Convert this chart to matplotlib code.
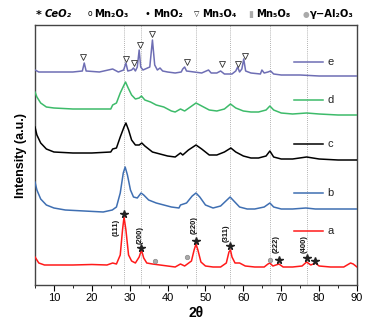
import matplotlib
matplotlib.use("Agg")
import matplotlib.pyplot as plt
from matplotlib.ticker import MultipleLocator

# ---------------- data ----------------
a_x = [5.0, 6.0, 7.5, 10, 15, 20, 24, 25.5, 26.5, 27.5, 28.1, 28.5, 29.0, 29.7, 30.5, 31.5, 32.5, 33.1, 33.7,
       34.5, 36, 38, 40, 42, 43.4, 44.5, 46.3, 47.0, 47.5, 48.0, 48.8, 50, 52, 54, 55.5, 56.2, 56.6, 57.0,
       57.8, 59.0, 60.5, 63, 65.5, 66.5, 67.0, 67.8, 69.4, 70.5, 73, 75.5, 76.7, 77.8, 79.0, 80, 83, 86.5,
       88.3, 89, 90]
a_y = [28, 22, 20, 20, 20, 20.5, 20, 22, 21, 30, 55, 68, 55, 30, 24, 22, 28, 35, 27,
       22, 21, 20, 19, 18, 21, 19, 24, 35, 41, 35, 23, 19, 18, 18, 22, 33, 35, 28,
       22, 22, 19, 18, 18, 21, 22, 19, 21, 18, 18, 19, 23, 20, 22, 19, 18, 18,
       22, 21, 18]

b_x = [5, 5.5, 6.5, 8, 10, 13, 18, 23, 25.4, 26.5, 27.5, 28.3, 28.8, 29.4, 30.2, 31, 32.0, 33, 33.7, 35,
       37, 39, 41, 43, 43.4, 45, 46.5, 47.5, 48.5, 50, 52, 54, 56.5, 57.5, 59, 61, 63, 65.5, 67, 68,
       70, 73, 76.5, 79, 84, 90]
b_y = [103, 95, 86, 80, 77, 75, 74, 73, 75, 78, 92, 112, 118, 110, 95, 88, 87, 92, 90, 85,
       82, 80, 78, 77, 80, 82, 89, 92, 88, 80, 77, 79, 88, 84, 78, 76, 76, 78, 82, 78,
       76, 76, 77, 76, 76, 76]

c_x = [5, 5.5, 6.5, 8, 10, 15, 20, 25, 25.5, 26.5, 27.5, 28.5, 29, 29.7, 30.5, 31.5, 32.5, 33.2, 34, 36,
       38, 40, 42, 43.4, 44, 45.5, 47.5, 49, 51, 53, 55, 56.7, 58, 60, 62, 64, 66, 67.0, 68, 70,
       73, 76.7, 80, 85, 90]
c_y = [158, 150, 142, 136, 133, 132, 132, 133, 136, 137, 148, 158, 162, 155, 145, 140, 140, 142, 139, 133,
       131, 129, 128, 132, 130, 135, 140, 136, 130, 130, 133, 137, 133, 129, 127, 127, 129, 134, 128, 126,
       126, 128, 126, 125, 125]

d_x = [5, 5.5, 6.5, 8, 10, 15, 20, 25, 25.5, 26.5, 27.5, 28.5, 28.9, 29.6, 30.5, 31.5, 32.5, 33.1, 34, 35.5,
       37, 39, 41, 42, 43.4, 44.5, 46, 47.5, 49, 51, 53, 55, 56.6, 58, 60, 62, 64, 66, 67.0, 68,
       70, 73, 76.7, 80, 85, 90]
d_y = [193, 188, 182, 178, 177, 176, 176, 176, 180, 182, 192, 200, 203, 197, 190, 186, 187, 189, 185, 183,
       180, 178, 174, 173, 176, 174, 178, 182, 179, 175, 174, 176, 181, 177, 174, 173, 173, 175, 179, 175,
       172, 171, 172, 171, 170, 170]

e_x = [5, 6, 10, 15, 17.5, 18.0, 18.5, 22, 25.5, 27, 28.4, 29.0, 29.5, 30.5, 31.0, 31.5, 32.0, 32.5, 32.9, 33.5,
       35.3, 36.0, 36.6, 37.3, 38.0, 38.7, 40, 42, 43.6, 44.0, 44.5, 45.0, 47, 49, 50.8, 51.5, 53, 54.0, 55, 57,
       58.0, 58.5, 59.0, 59.6, 60.1, 60.6, 62, 64.5, 64.9, 65.5, 66.5, 67.2, 68, 70, 75, 80, 85, 90]
e_y = [215, 213, 213, 213, 214, 222, 214, 213, 216, 213, 215, 222, 214, 215, 217, 214, 218, 235, 218, 215,
       218, 245, 220, 215, 217, 214, 213, 212, 213, 216, 218, 214, 213, 212, 215, 212, 212, 214, 211, 211,
       214, 218, 213, 216, 226, 214, 212, 211, 215, 212, 213, 214, 211, 210, 210, 209, 209, 209]

series_x = [a_x, b_x, c_x, d_x, e_x]
series_y = [a_y, b_y, c_y, d_y, e_y]
labels = ["a", "b", "c", "d", "e"]
colors = ["#ff1a1a", "#3f6fb2", "#000000", "#3dbb6a", "#6e6eb4"]
legend_y = [54, 92, 141, 185, 223]

ref_lines = [28.6, 33.1, 47.5, 56.6, 67.0, 76.8]

# CeO2 peaks on curve a: (2theta, star height, hkl label)
ceo2_x = [28.5, 33.0, 47.5, 56.6, 69.4, 76.7, 79.0]
ceo2_y = [71, 37, 44, 39, 25, 27, 24]
hkl_x = [27.3, 33.6, 47.8, 56.3, 69.6, 77.0]
hkl_y = [58, 50, 60, 52, 41, 41]
hkl_txt = ["(111)", "(200)", "(220)", "(311)", "(222)", "(400)"]
al2o3_x = [36.6, 45.0, 67.0]
al2o3_y = [24, 28, 25]

mn3o4_x = [17.8, 29.0, 31.2, 32.6, 36.0, 45.0, 54.3, 58.7, 60.4]
mn3o4_y = [228, 226, 222, 240, 251, 223, 221, 221, 229]

# ---------------- figure ----------------
plt.rcParams['font.family'] = ['Liberation Sans', 'DejaVu Sans']
fig = plt.figure(figsize=(3.65, 3.25), dpi=100)
ax = fig.add_axes([35/365, 40/325, 322/365, 260/325])

for xv in ref_lines:
    ax.axvline(xv, color="#999999", lw=0.6, ls=(0, (1, 1.5)), zorder=1)

for xs, ys, c in zip(series_x, series_y, colors):
    ax.plot(xs, ys, color=c, lw=1.1, zorder=3)

# legend-like labels
for lab, c, ly in zip(labels, colors, legend_y):
    ax.plot([73.5, 80.9], [ly, ly], color=c, lw=1.1, zorder=3)
    ax.text(82.2, ly, lab, fontsize=8, va="center", ha="left", color="#222222")

# markers
ax.plot(ceo2_x, ceo2_y, ls="none", marker="*", color="#222222", ms=5.5, zorder=4)
for xv, yv, t in zip(hkl_x, hkl_y, hkl_txt):
    ax.text(xv, yv, t, rotation=90, fontsize=5.5, fontweight="bold", ha="right", va="center", color="#111111")
ax.plot(al2o3_x, al2o3_y, ls="none", marker="o", mfc="#aaaaaa", mec="#888888", ms=3.2, mew=0.5, zorder=4)
ax.plot(mn3o4_x, mn3o4_y, ls="none", marker="v", mfc="white", mec="#333333", ms=4.2, mew=0.6, zorder=4)

ax.set_xlim(5, 90)
ax.set_ylim(0, 260)
ax.xaxis.set_major_locator(MultipleLocator(10))
ax.xaxis.set_minor_locator(MultipleLocator(5))
ax.set_xticks(range(10, 91, 10))
ax.tick_params(axis="x", which="major", direction="out", length=4, width=0.8, labelsize=8, pad=2)
ax.tick_params(axis="x", which="minor", direction="out", length=2, width=0.6)
ax.set_yticks([])
for s in ax.spines.values():
    s.set_color("#444444")
    s.set_linewidth(1.0)

ax.set_xlabel("2θ", fontsize=10, fontweight="bold", labelpad=2)
ax.set_ylabel("Intensity (a.u.)", fontsize=9, fontweight="bold", labelpad=6)

# header key
hy = (325 - 14) / 325
def fx(px):
    return px / 365
fs = 7.2
hf = "DejaVu Sans"
fig.text(fx(36), hy - 0.004, "*", fontsize=8, fontweight="bold", va="center", ha="left", family=hf)
fig.text(fx(45), hy, "CeO₂", fontsize=fs, fontweight="bold", style="italic", va="center", ha="left", family=hf)
fig.text(fx(88), hy, "o", fontsize=5.5, va="center", ha="left", family=hf)
fig.text(fx(94), hy, "Mn₂O₃", fontsize=fs, fontweight="bold", va="center", ha="left", family=hf)
fig.text(fx(145), hy, "•", fontsize=7, va="center", ha="left", family=hf)
fig.text(fx(153), hy, "MnO₂", fontsize=fs, fontweight="bold", va="center", ha="left", family=hf)
fig.text(fx(194), hy, "▽", fontsize=5, va="center", ha="left", family=hf)
fig.text(fx(202), hy, "Mn₃O₄", fontsize=fs, fontweight="bold", va="center", ha="left", family=hf)
fig.text(fx(248), hy, "▮", fontsize=6.5, color="#aaaaaa", va="center", ha="left", family=hf)
fig.text(fx(256), hy, "Mn₅O₈", fontsize=fs, fontweight="bold", va="center", ha="left", family=hf)
fig.text(fx(303), hy, "●", fontsize=5.5, color="#aaaaaa", va="center", ha="left", family=hf)
fig.text(fx(310), hy, "γ−Al₂O₃", fontsize=fs, fontweight="bold", va="center", ha="left", family=hf)

fig.savefig("out.png", dpi=100)
